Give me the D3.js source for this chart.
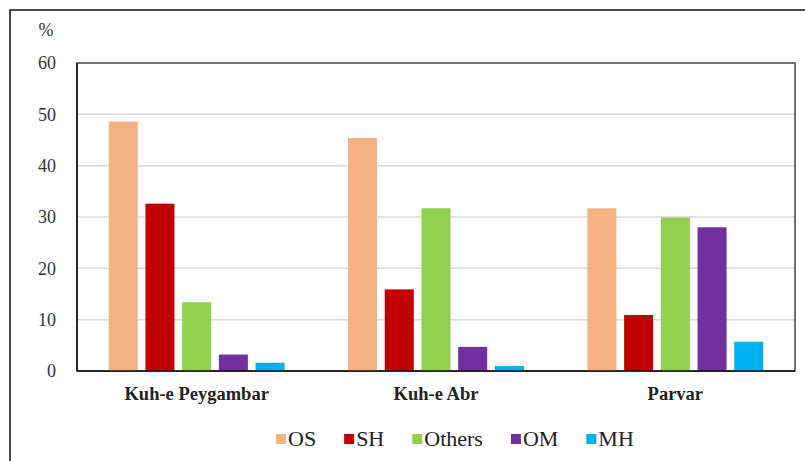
<!DOCTYPE html>
<html>
<head>
<meta charset="utf-8">
<script src="https://cdn.jsdelivr.net/npm/d3@7"></script>
<style>
  body { margin: 0; background: #fff; }
  svg { display: block; }
</style>
</head>
<body>
<svg width="805" height="461"></svg>
<script>
// data
var sites = ["Kuh-e Peygambar", "Kuh-e Abr", "Parvar"];
var groups = ["OS", "SH", "Others", "OM", "MH"];
var colors = ["#F4B183", "#C00000", "#92D050", "#7030A0", "#00B0F0"];
var OS = [48.6, 45.4, 31.7];
var SH = [32.6, 15.9, 10.9];
var Others = [13.4, 31.7, 29.9];
var OM = [3.2, 4.7, 28.0];
var MH = [1.6, 1.0, 5.7];
var yTicks = [0, 10, 20, 30, 40, 50, 60];

var seriesValues = [OS, SH, Others, OM, MH];
var serif = "'Liberation Serif', 'Times New Roman', serif";

var svg = d3.select("svg");
var plotLeft = 77, plotRight = 795, plotTop = 63, plotBottom = 371;

// outer frame (only left and top visible)
svg.append("path")
   .attr("d", "M10,461V10H805")
   .attr("fill", "none")
   .attr("stroke", "#111")
   .attr("stroke-width", 1.5);

var x0 = d3.scaleBand().domain(sites).range([plotLeft, plotRight]);
var x1 = d3.scaleBand().domain(groups).range([0, x0.bandwidth()])
           .paddingInner(0.21).paddingOuter(0.865);
var y = d3.scaleLinear().domain([0, 60]).range([plotBottom, plotTop]);
var color = d3.scaleOrdinal().domain(groups).range(colors);

// gridlines
svg.append("g")
   .selectAll("line")
   .data(yTicks.filter(function(d) { return d > 0 && d < 60; }))
   .enter().append("line")
   .attr("x1", plotLeft).attr("x2", plotRight)
   .attr("y1", function(d) { return y(d); })
   .attr("y2", function(d) { return y(d); })
   .attr("stroke", "#d9d9d9")
   .attr("stroke-width", 1.5);

// plot frame
svg.append("rect")
   .attr("x", plotLeft).attr("y", plotTop)
   .attr("width", plotRight - plotLeft).attr("height", plotBottom - plotTop)
   .attr("fill", "none")
   .attr("stroke", "#444")
   .attr("stroke-width", 1.5);

// bars
var data = [];
sites.forEach(function(s, i) {
    groups.forEach(function(g, j) {
        data.push({site: s, group: g, value: seriesValues[j][i]});
    });
});

svg.append("g")
   .selectAll("rect")
   .data(data)
   .enter().append("rect")
   .attr("x", function(d) { return x0(d.site) + x1(d.group); })
   .attr("y", function(d) { return y(d.value); })
   .attr("width", x1.bandwidth())
   .attr("height", function(d) { return y(0) - y(d.value); })
   .attr("fill", function(d) { return color(d.group); });

// axis lines
svg.append("line")
   .attr("x1", plotLeft).attr("x2", plotRight)
   .attr("y1", plotBottom).attr("y2", plotBottom)
   .attr("stroke", "#111").attr("stroke-width", 1.5);
svg.append("line")
   .attr("x1", plotLeft).attr("x2", plotLeft)
   .attr("y1", plotTop).attr("y2", plotBottom)
   .attr("stroke", "#111").attr("stroke-width", 1.5);

// y axis labels
var yAxis = d3.axisLeft(y).tickValues(yTicks).tickSize(0).tickPadding(21);
var ya = svg.append("g")
   .attr("transform", "translate(" + plotLeft + ",0)")
   .call(yAxis);
ya.select(".domain").remove();
ya.selectAll("text")
  .style("font-family", serif)
  .style("font-size", "18px")
  .attr("fill", "#333");

svg.append("text")
   .attr("x", 46).attr("y", 36)
   .attr("text-anchor", "middle")
   .style("font-family", serif)
   .style("font-size", "18px")
   .attr("fill", "#333")
   .text("%");

// category labels
var xAxis = d3.axisBottom(x0).tickSize(0).tickPadding(16);
var xa = svg.append("g")
   .attr("transform", "translate(0," + plotBottom + ")")
   .call(xAxis);
xa.select(".domain").remove();
xa.selectAll("text")
  .style("font-family", serif)
  .style("font-size", "18.5px")
  .style("font-weight", "bold")
  .attr("fill", "#222");

// legend
var legend = svg.append("g");
var lx = 276;
groups.forEach(function(g) {
    var item = legend.append("g").attr("transform", "translate(" + lx + ",0)");
    item.append("rect")
        .attr("x", 0).attr("y", 434)
        .attr("width", 10).attr("height", 10)
        .attr("fill", color(g));
    var t = item.append("text")
        .attr("x", 12).attr("y", 446)
        .style("font-family", serif)
        .style("font-size", "22px")
        .attr("fill", "#222")
        .text(g);
    lx += 12 + t.node().getComputedTextLength() + 28;
});
</script>
</body>
</html>
